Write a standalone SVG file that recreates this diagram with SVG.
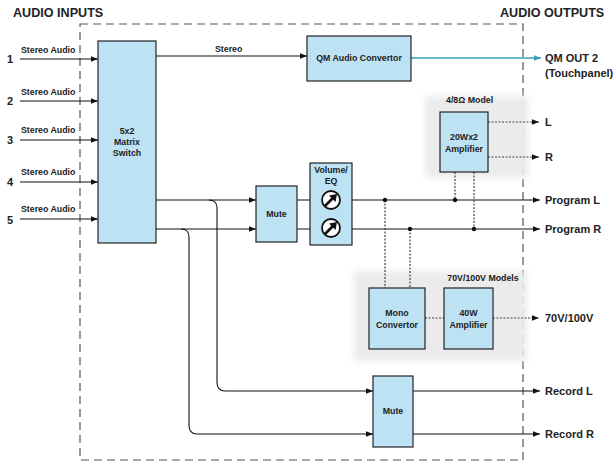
<svg xmlns="http://www.w3.org/2000/svg" width="613" height="463" viewBox="0 0 613 463">
<style>
.box{fill:#bde2f4;stroke:#222;stroke-width:1.2}
.ln{fill:none;stroke:#111;stroke-width:1.1}
.dot{fill:none;stroke:#444;stroke-width:1.2;stroke-dasharray:2,1.5}
.t{font-family:"Liberation Sans",Arial,sans-serif;fill:#222}
.s{font-size:8.8px;font-weight:bold}
.b{font-size:8.8px;font-weight:bold;text-anchor:middle}
.o{font-size:11px;font-weight:bold}
.h{font-size:12.6px;font-weight:bold}
.shade{fill:#ebebeb;filter:url(#blur)}
</style>
<defs>
<marker id="a" viewBox="0 0 10 10" refX="10" refY="5" markerWidth="7" markerHeight="7" markerUnits="userSpaceOnUse" orient="auto"><path d="M0,1 L10,5 L0,9 z" fill="#111"/></marker>
<marker id="at" viewBox="0 0 10 10" refX="10" refY="5" markerWidth="7" markerHeight="7" markerUnits="userSpaceOnUse" orient="auto"><path d="M0,1 L10,5 L0,9 z" fill="#3aa0b5"/></marker>
<filter id="blur" x="-10%" y="-10%" width="120%" height="120%"><feGaussianBlur stdDeviation="3"/></filter>
</defs>
<rect width="613" height="463" fill="#fff"/>
<text class="t h" x="13" y="17">AUDIO INPUTS</text>
<text class="t h" x="500" y="17">AUDIO OUTPUTS</text>
<rect x="80" y="24" width="443" height="436" fill="none" stroke="#555" stroke-width="1.2" stroke-dasharray="8,5"/>
<rect class="shade" x="425" y="96" width="103" height="82"/>
<rect class="shade" x="354" y="271" width="173" height="90"/>
<g id="connectors">
<path class="ln" d="M20,59 H98" marker-end="url(#a)"/>
<path class="ln" d="M20,101 H98" marker-end="url(#a)"/>
<path class="ln" d="M20,140 H98" marker-end="url(#a)"/>
<path class="ln" d="M20,182 H98" marker-end="url(#a)"/>
<path class="ln" d="M20,219 H98" marker-end="url(#a)"/>
<path class="ln" d="M156,56 H307" marker-end="url(#a)"/>
<path d="M411,58 H541" fill="none" stroke="#3aa0b5" stroke-width="1.6" marker-end="url(#at)"/>
<path class="ln" d="M156,200 H256" marker-end="url(#a)"/>
<path class="ln" d="M156,229 H256" marker-end="url(#a)"/>
<path class="ln" d="M297,200 H310 M297,229 H310"/>
<path class="ln" d="M352,200 H540" marker-end="url(#a)"/>
<path class="ln" d="M352,229 H540" marker-end="url(#a)"/>
<path class="ln" d="M209,200 Q217,200 217,208 V382 Q217,391 225,391 H373" marker-end="url(#a)"/>
<path class="ln" d="M181,229 Q189,229 189,237 V425 Q189,434 197,434 H373" marker-end="url(#a)"/>
<path class="ln" d="M413,391 H540" marker-end="url(#a)"/>
<path class="ln" d="M413,434 H540" marker-end="url(#a)"/>
<path class="dot" d="M488,122 H539" marker-end="url(#a)"/>
<path class="dot" d="M488,157 H539" marker-end="url(#a)"/>
<path class="dot" d="M455,172 V200 M474,172 V229"/>
<path class="dot" d="M385,200 V288 M410,229 V288"/>
<path class="dot" d="M425,318 H444"/>
<path class="dot" d="M493,318 H539" marker-end="url(#a)"/>
<circle cx="385" cy="200" r="2.2" fill="#111"/>
<circle cx="455" cy="200" r="2.2" fill="#111"/>
<circle cx="410" cy="229" r="2.2" fill="#111"/>
<circle cx="474" cy="229" r="2.2" fill="#111"/>
</g>
<g id="inputs">
<text class="t o" x="7" y="63">1</text>
<text class="t o" x="7" y="105">2</text>
<text class="t o" x="7" y="144">3</text>
<text class="t o" x="7" y="186">4</text>
<text class="t o" x="7" y="224">5</text>
<text class="t s" x="21" y="53">Stereo Audio</text>
<text class="t s" x="21" y="95">Stereo Audio</text>
<text class="t s" x="21" y="133">Stereo Audio</text>
<text class="t s" x="21" y="175">Stereo Audio</text>
<text class="t s" x="21" y="212">Stereo Audio</text>
<text class="t s" x="215" y="52">Stereo</text>
</g>
<g id="matrix">
<rect class="box" x="98" y="41" width="58" height="202"/>
<text class="t b" x="127" y="134">5x2</text>
<text class="t b" x="127" y="145">Matrix</text>
<text class="t b" x="127" y="156">Switch</text>
</g>
<g id="qmconv">
<rect class="box" x="307" y="36" width="104" height="45"/>
<text class="t b" x="359" y="61">QM Audio Convertor</text>
</g>
<g id="amp20">
<text class="t s" x="446" y="103">4/8Ω Model</text>
<rect class="box" x="440" y="112" width="48" height="60"/>
<text class="t b" x="464" y="140">20Wx2</text>
<text class="t b" x="464" y="152">Amplifier</text>
</g>
<g id="mute1">
<rect class="box" x="256" y="186" width="41" height="56"/>
<text class="t b" x="276.5" y="217">Mute</text>
</g>
<g id="voleq">
<rect class="box" x="310" y="163" width="42" height="82"/>
<text class="t b" x="331" y="173">Volume/</text>
<text class="t b" x="331" y="184">EQ</text>
<circle cx="331" cy="200" r="9" fill="#fff" stroke="#111" stroke-width="1.8"/>
<path d="M325,206 L333,198" stroke="#111" stroke-width="2.6"/>
<path d="M337,194 L329,195.5 L335.5,202 z" fill="#111"/>
<circle cx="331" cy="228" r="9" fill="#fff" stroke="#111" stroke-width="1.8"/>
<path d="M325,234 L333,226" stroke="#111" stroke-width="2.6"/>
<path d="M337,222 L329,223.5 L335.5,230 z" fill="#111"/>
</g>
<g id="mono">
<text class="t b" x="483" y="281">70V/100V Models</text>
<rect class="box" x="369" y="288" width="56" height="61"/>
<text class="t b" x="397" y="316">Mono</text>
<text class="t b" x="397" y="328">Convertor</text>
</g>
<g id="amp40">
<rect class="box" x="444" y="288" width="49" height="61"/>
<text class="t b" x="468.5" y="316">40W</text>
<text class="t b" x="468.5" y="328">Amplifier</text>
</g>
<g id="mute2">
<rect class="box" x="373" y="376" width="40" height="71"/>
<text class="t b" x="393" y="414">Mute</text>
</g>
<g id="outputs">
<text class="t o" x="545" y="62">QM OUT 2</text>
<text class="t o" x="545" y="77">(Touchpanel)</text>
<text class="t o" x="545" y="126">L</text>
<text class="t o" x="545" y="161">R</text>
<text class="t o" x="545" y="204">Program L</text>
<text class="t o" x="545" y="233">Program R</text>
<text class="t o" x="545" y="322">70V/100V</text>
<text class="t o" x="545" y="395">Record L</text>
<text class="t o" x="545" y="438">Record R</text>
</g>
</svg>
